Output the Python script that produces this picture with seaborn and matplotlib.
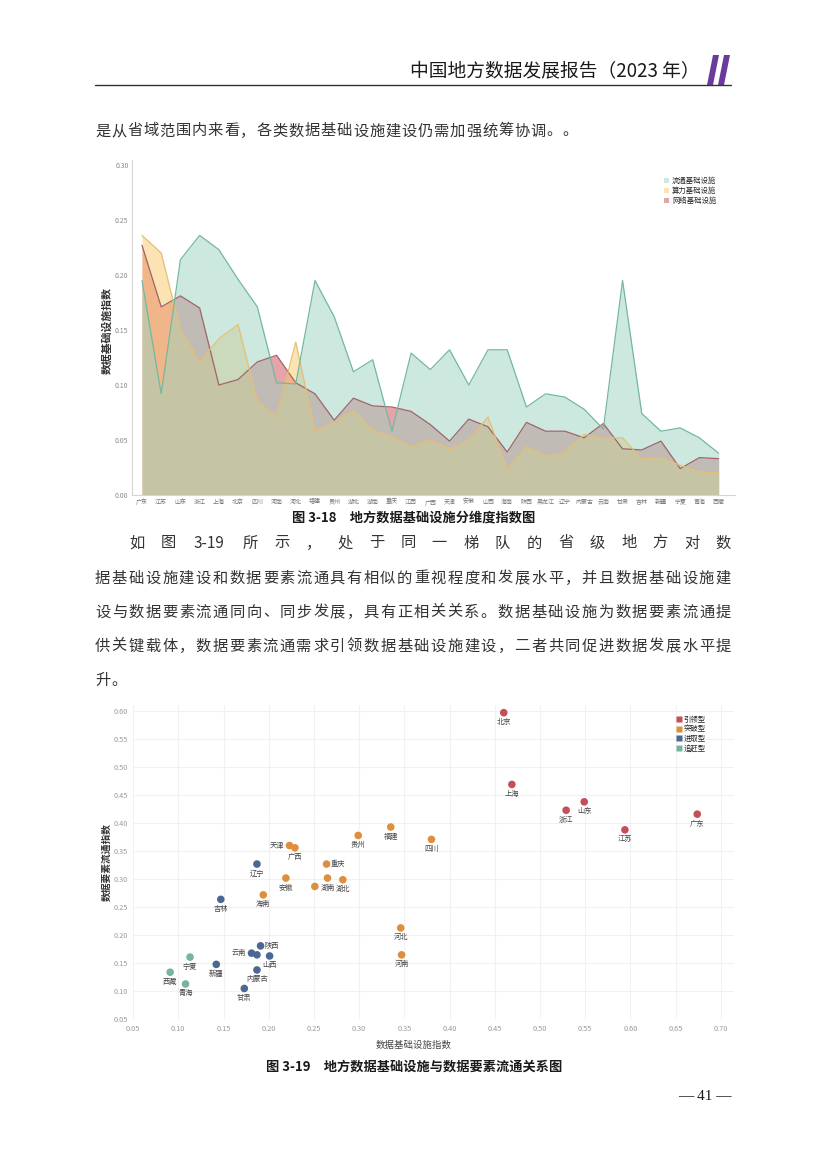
import matplotlib
matplotlib.use('Agg')
import matplotlib.pyplot as plt
from matplotlib.patches import Polygon, Patch
from matplotlib.lines import Line2D
import numpy as np
import pandas as pd
import seaborn as sns

# ---- 图 3-18 data: 分维度指数 ----
provinces = ['广东', '江苏', '山东', '浙江', '上海', '北京', '四川', '河南', '河北', '福建',
             '贵州', '湖北', '湖南', '重庆', '江西', '广西', '天津', '安徽', '山西', '海南',
             '陕西', '黑龙江', '辽宁', '内蒙古', '云南', '甘肃', '吉林', '新疆', '宁夏', '青海', '西藏']
liutong = [0.195, 0.092, 0.214, 0.236, 0.223, 0.196, 0.171, 0.102, 0.101, 0.195,
           0.162, 0.112, 0.123, 0.058, 0.129, 0.114, 0.132, 0.100, 0.132, 0.132,
           0.080, 0.092, 0.089, 0.078, 0.060, 0.195, 0.074, 0.058, 0.061, 0.052, 0.038]
suanli = [0.236, 0.220, 0.150, 0.121, 0.142, 0.155, 0.085, 0.071, 0.139, 0.058,
          0.066, 0.077, 0.059, 0.053, 0.044, 0.050, 0.042, 0.050, 0.071, 0.023,
          0.044, 0.035, 0.039, 0.055, 0.052, 0.052, 0.033, 0.034, 0.027, 0.021, 0.020]
wangluo = [0.227, 0.171, 0.181, 0.170, 0.100, 0.105, 0.121, 0.127, 0.102, 0.092,
           0.068, 0.088, 0.081, 0.080, 0.076, 0.064, 0.049, 0.069, 0.062, 0.039,
           0.066, 0.058, 0.058, 0.052, 0.065, 0.042, 0.041, 0.049, 0.024, 0.034, 0.033]
y1_ticks = [0.00, 0.05, 0.10, 0.15, 0.20, 0.25, 0.30]

# ---- 图 3-19 data: 基础设施 vs 要素流通 ----
sc_names = ['北京', '上海', '山东', '浙江', '江苏', '广东',
            '四川', '福建', '贵州', '天津', '广西', '重庆', '安徽', '江西', '湖南', '湖北', '海南', '河北', '河南',
            '辽宁', '吉林', '陕西', '云南', '黑龙江', '山西', '新疆', '内蒙古', '甘肃',
            '宁夏', '西藏', '青海']
sc_infra = [0.460, 0.469, 0.549, 0.529, 0.594, 0.674,
            0.380, 0.335, 0.299, 0.223, 0.229, 0.264, 0.219, 0.251, 0.265, 0.282, 0.194, 0.346, 0.347,
            0.187, 0.147, 0.191, 0.181, 0.187, 0.201, 0.142, 0.187, 0.173,
            0.113, 0.091, 0.108]
sc_flow = [0.597, 0.469, 0.438, 0.423, 0.388, 0.416,
           0.371, 0.393, 0.378, 0.360, 0.356, 0.327, 0.302, 0.287, 0.302, 0.299, 0.272, 0.213, 0.165,
           0.327, 0.264, 0.181, 0.168, 0.165, 0.163, 0.148, 0.138, 0.105,
           0.161, 0.134, 0.113]
sc_group = ['引领型'] * 6 + ['突破型'] * 13 + ['进取型'] * 9 + ['追赶型'] * 3
group_order = ['引领型', '突破型', '进取型', '追赶型']
x2_ticks = [0.05, 0.10, 0.15, 0.20, 0.25, 0.30, 0.35, 0.40, 0.45, 0.50, 0.55, 0.60, 0.65, 0.70]
y2_ticks = [0.05, 0.10, 0.15, 0.20, 0.25, 0.30, 0.35, 0.40, 0.45, 0.50, 0.55, 0.60]

W, H = 827, 1169
sns.set_theme(style='white')
plt.rcParams['font.family'] = ['Noto Sans CJK SC', 'DejaVu Sans']
plt.rcParams['axes.unicode_minus'] = False

fig = plt.figure(figsize=(W / 100, H / 100), dpi=100)
fig.patch.set_facecolor('white')


def fx(x):
    return x / W


def fy(y):
    return 1 - y / H


def px_axes(l, t, r, b):
    return fig.add_axes([l / W, 1 - b / H, (r - l) / W, (b - t) / H])


def tokens(s):
    out, buf = [], ''
    for ch in s:
        if ord(ch) < 128:
            buf += ch
        else:
            if buf.strip():
                out.append(buf.strip())
            buf = ''
            out.append(ch)
    if buf.strip():
        out.append(buf.strip())
    return out


def text_line(s, x0, y, size, x1=None, gap=1.2, color='#333333'):
    # justified chinese line: glyphs keep their width, spare room goes between them
    em = size * 100 / 72
    toks = tokens(s)
    widths = [em if ord(t[0]) >= 128 else 0.56 * em * len(t) for t in toks]
    if x1 is not None and len(toks) > 1:
        gap = (x1 - x0 - sum(widths)) / (len(toks) - 1)
    x = x0
    for t, w in zip(toks, widths):
        fig.text(fx(x + w / 2), fy(y), t, fontsize=size, ha='center', va='center', color=color)
        x += w + gap


# ---- page header ----
fig.text(fx(700), fy(72), '中国地方数据发展报告（2023 年）', fontsize=13.5, ha='right',
         va='center', color='#1a1a1a')
fig.add_artist(Line2D([fx(95), fx(731)], [fy(84.5), fy(84.5)], color='#333333', lw=1.0))
for dx in (0, 11):
    fig.add_artist(Polygon([(fx(707 + dx), fy(85)), (fx(713 + dx), fy(85)),
                            (fx(719 + dx), fy(55)), (fx(713 + dx), fy(55))],
                           closed=True, color='#6a3a9c', lw=0))

text_line('是从省域范围内来看，各类数据基础设施建设仍需加强统筹协调。。', 95, 131, 11, x1=578)

# ---- 图 3-18 area chart ----
ax1 = px_axes(132, 159.5, 735, 495)
xs = np.arange(len(provinces))
df1 = pd.DataFrame({'x': xs, '流通基础设施': liutong, '算力基础设施': suanli, '网络基础设施': wangluo})
series = [('网络基础设施', '#cf4b57', '#a0646a'),
          ('算力基础设施', '#fbc969', '#e6bf74'),
          ('流通基础设施', '#9bd3c1', '#74b8a2')]
for name, fc, lc in series:
    ax1.fill_between(df1['x'], 0, df1[name], color=fc, alpha=0.5, lw=0)
    sns.lineplot(data=df1, x='x', y=name, ax=ax1, color=lc, lw=0.9, legend=False)

ax1.set_xlim(-0.52, 30.85)
ax1.set_ylim(0, 0.305)
ax1.set_xticks(xs)
ax1.set_xticklabels(provinces, fontsize=4.3, color='#777777')
ax1.set_yticks(y1_ticks)
ax1.set_yticklabels([f'{v:.2f}' for v in y1_ticks], fontsize=5, color='#8a8a8a')
ax1.tick_params(axis='y', length=0, pad=2.5)
ax1.tick_params(axis='x', length=0, pad=6.3)
for lbl in ax1.get_xticklabels():
    lbl.set_verticalalignment('baseline')
ax1.set_xlabel('')
ax1.set_ylabel('')
for side in ('top', 'right'):
    ax1.spines[side].set_visible(False)
for side in ('left', 'bottom'):
    ax1.spines[side].set_color('#d5d5d5')
    ax1.spines[side].set_linewidth(0.8)

leg1 = [Patch(facecolor=fc, alpha=0.5, edgecolor='none', label=name) for name, fc, lc in series[::-1]]
ax1.legend(handles=leg1, loc='upper left', bbox_to_anchor=(fx(664), fy(177)),
           bbox_transform=fig.transFigure, frameon=False, fontsize=5.3,
           handlelength=0.7, handleheight=0.7, handletextpad=0.4, labelspacing=0.25,
           borderpad=0, borderaxespad=0)
fig.text(fx(107), fy(330), '数据基础设施指数', rotation=90, fontsize=7.8, fontweight='bold',
         ha='center', va='center', color='#333333')

fig.text(fx(414), fy(517), '图 3-18　地方数据基础设施分维度指数图', fontsize=9.5, fontweight='bold',
         ha='center', va='center', color='#1a1a1a')

# ---- body paragraph ----
text_line('如图 3-19 所示，处于同一梯队的省级地方对数', 129, 543, 11, x1=731)
text_line('据基础设施建设和数据要素流通具有相似的重视程度和发展水平，并且数据基础设施建', 95, 578, 11, x1=731)
text_line('设与数据要素流通同向、同步发展，具有正相关关系。数据基础设施为数据要素流通提', 95, 612, 11, x1=731)
text_line('供关键载体，数据要素流通需求引领数据基础设施建设，二者共同促进数据发展水平提', 95, 646, 11, x1=731)
text_line('升。', 95, 680, 11, gap=1.5)

# ---- 图 3-19 scatter ----
ax2 = px_axes(133.1, 705.4, 734.3, 1019.3)
df2 = pd.DataFrame({'name': sc_names, 'infra': sc_infra, 'flow': sc_flow, 'group': sc_group})
palette = {'引领型': '#c44f59', '突破型': '#dd8f3e', '进取型': '#4a6893', '追赶型': '#78b49c'}
sns.scatterplot(data=df2, x='infra', y='flow', hue='group', hue_order=group_order,
                palette=palette, s=30, edgecolor='none', ax=ax2, legend=False, zorder=3)

label_pos = {'天津': 'left', '云南': 'left', '重庆': 'right', '陕西': 'right',
             '江西': None, '黑龙江': None}
offsets = {'below': (0, -6.8), 'left': (-9.2, 0), 'right': (8.2, 0)}
for _, r in df2.iterrows():
    pos = label_pos.get(r['name'], 'below')
    if pos is None:
        continue
    ax2.annotate(r['name'], (r['infra'], r['flow']), xytext=offsets[pos], textcoords='offset points',
                 ha='center', va='center', fontsize=5.2, color='#444444', zorder=4)

ax2.set_xlim(0.05, 0.715)
ax2.set_ylim(0.05, 0.61)
ax2.set_xticks(x2_ticks)
ax2.set_xticklabels([f'{v:.2f}' for v in x2_ticks], fontsize=5.3, color='#9a9a9a')
ax2.set_yticks(y2_ticks)
ax2.set_yticklabels([f'{v:.2f}' for v in y2_ticks], fontsize=5.3, color='#9a9a9a')
ax2.tick_params(length=0, pad=4)
ax2.grid(True, color='#f1f1f1', lw=0.8)
ax2.set_axisbelow(True)
for side in ax2.spines:
    ax2.spines[side].set_visible(False)
ax2.set_xlabel('')
ax2.set_ylabel('')

leg2 = [Line2D([0], [0], marker='s', ls='none', markersize=4, markerfacecolor=palette[g],
               markeredgecolor='none', label=g) for g in group_order]
ax2.legend(handles=leg2, loc='upper left', bbox_to_anchor=(fx(677), fy(716)),
           bbox_transform=fig.transFigure, frameon=False, fontsize=5.3,
           handlelength=0.6, handletextpad=0.3, labelspacing=0.2,
           borderpad=0, borderaxespad=0)

fig.text(fx(414), fy(1045), '数据基础设施指数', fontsize=6.8, ha='center', va='center', color='#444444')
fig.text(fx(107), fy(862), '数据要素流通指数', rotation=90, fontsize=7, fontweight='bold',
         ha='center', va='center', color='#333333')

fig.text(fx(414), fy(1067), '图 3-19　地方数据基础设施与数据要素流通关系图', fontsize=9.5,
         fontweight='bold', ha='center', va='center', color='#1a1a1a')

fig.text(fx(705), fy(1097), '— 41 —', fontsize=11, ha='center', va='center', color='#1a1a1a',
         family=['Liberation Serif', 'DejaVu Serif'])

fig.savefig('out.png', dpi=100, facecolor='white')
